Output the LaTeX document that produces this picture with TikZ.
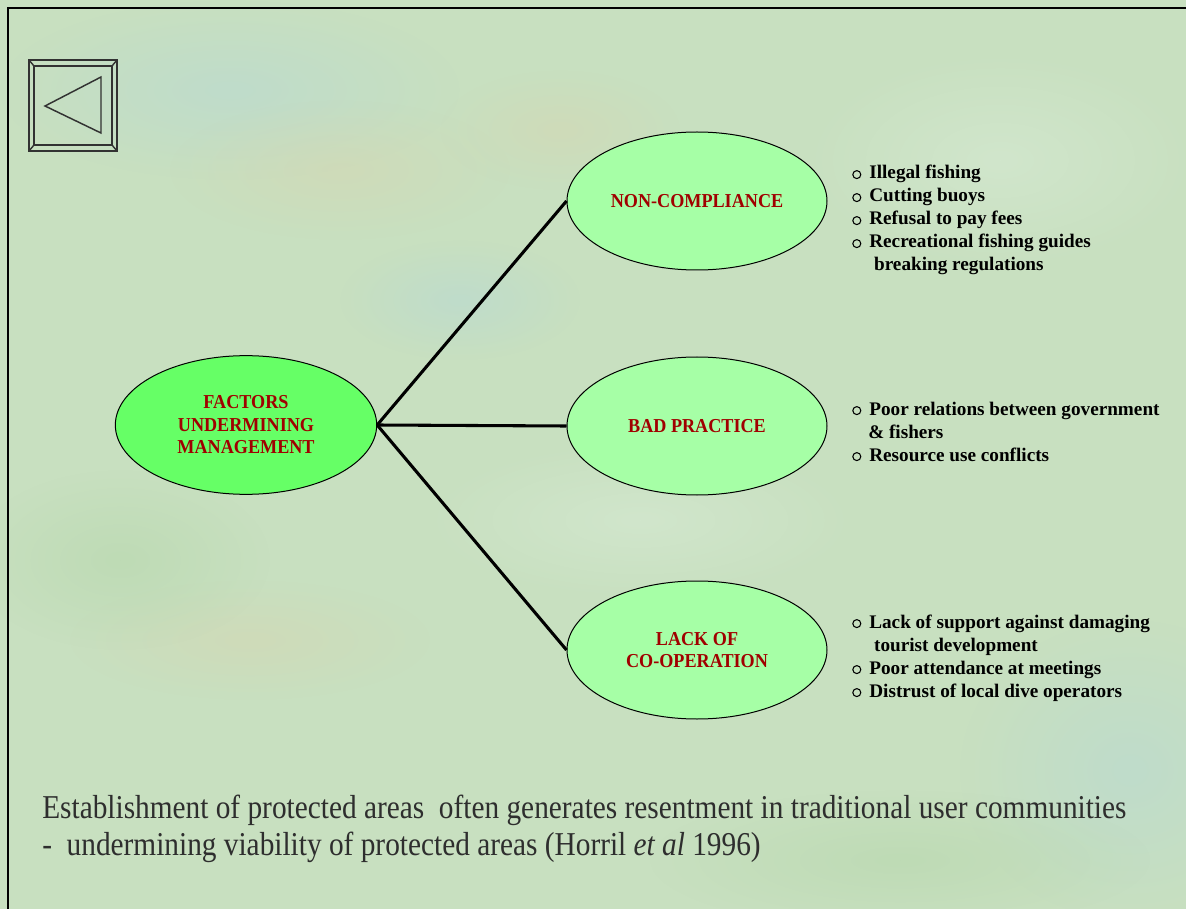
\documentclass[tikz,border=0pt]{standalone}
\usepackage{fontspec}
\setmainfont{Liberation Serif}
\newfontfamily\labelfont[FakeStretch=0.92]{Liberation Serif}
\newfontfamily\notefont[FakeStretch=0.88]{Liberation Serif}
\usetikzlibrary{shapes.geometric,fadings}

\definecolor{bgbase}{RGB}{200,224,192}
\definecolor{bgblue}{RGB}{182,216,214}
\definecolor{bgtan}{RGB}{214,214,178}
\definecolor{bglight}{RGB}{218,236,216}
\definecolor{bggreen}{RGB}{180,214,170}
\definecolor{hubgreen}{RGB}{102,255,102}
\definecolor{leafgreen}{RGB}{166,255,166}
\definecolor{labelred}{RGB}{160,0,0}
\definecolor{btngray}{RGB}{50,50,50}

\tikzfading[name=softblob, inner color=transparent!0, outer color=transparent!100]

% small open bullet used in the lists
\newcommand{\openbullet}{\tikz[baseline={(0,-3.3pt)}]\draw[line width=0.8pt,black](3pt,0)circle(3pt);\hspace{6pt}}
\newcommand{\bulletgap}{\hphantom{\openbullet}}

\tikzset{
  hub/.style={ellipse, draw=black, line width=0.75pt, fill=hubgreen,
    minimum width=196pt, minimum height=104pt, inner sep=0pt,
    align=center, text=labelred, font=\labelfont\bfseries\fontsize{14.8}{16.9}\selectfont},
  leaf/.style={hub, fill=leafgreen, minimum width=195pt, minimum height=103.5pt},
  link/.style={line width=2.3pt, black},
  itemlist/.style={anchor=base west, inner sep=0pt, align=left,
    font=\bfseries\fontsize{14.4}{17.25}\selectfont},
  note/.style={anchor=base west, inner sep=0pt, align=left, text=black!82,
    font=\notefont\fontsize{25}{27.75}\selectfont},
  blob/.style={path fading=softblob, fill opacity=0.5},
  btn/.style={draw=btngray, line width=1.1pt, line join=miter}
}

\begin{document}
\begin{tikzpicture}[x=0.75pt, y=-0.75pt]
  % page and mottled background
  \fill[bgbase] (0,0) rectangle (1186,909);
  \useasboundingbox (0,0) rectangle (1186,909);
  \fill[bgblue, blob] (230,90) ellipse (230 and 90);
  \fill[bgtan, blob] (340,170) ellipse (170 and 70);
  \fill[bgtan, blob] (560,130) ellipse (120 and 60);
  \fill[bgblue, blob] (460,300) ellipse (120 and 60);
  \fill[bglight, blob] (1000,160) ellipse (200 and 110);
  \fill[bgtan, blob] (250,640) ellipse (180 and 60);
  \fill[bgblue, blob] (1130,770) ellipse (170 and 150);
  \fill[bggreen, blob] (900,860) ellipse (250 and 70);
  \fill[bggreen, blob] (120,560) ellipse (150 and 90);
  \fill[bglight, blob] (640,520) ellipse (220 and 80);

  % frame lines along the top and left
  \draw[line width=1.6pt, black] (1186,8) -- (8,8) -- (8,909);

  % back button
  \draw[btn] (29,60) rectangle (117,151);
  \draw[btn] (34,66) rectangle (112,145);
  \draw[btn] (29,60) -- (34,66) (117,60) -- (112,66)
             (29,151) -- (34,145) (117,151) -- (112,145);
  \draw[btn] (45,106) -- (101,77) -- (101,133) -- cycle;

  % ellipses
  \node[hub] (hub) at (246,425) {FACTORS\\UNDERMINING\\MANAGEMENT};
  \node[leaf] (nc) at (697,201) {NON-COMPLIANCE};
  \node[leaf] (bp) at (697,426) {BAD PRACTICE};
  \node[leaf] (lc) at (697,650) {LACK OF\\CO-OPERATION};

  % connectors
  \draw[link] (hub.east) -- (nc.west);
  \draw[link] (hub.east) -- (bp.west);
  \draw[link] (hub.east) -- (lc.west);

  % item lists (placed by the baseline of their last line)
  \node[itemlist] (ncitems) at (852,271) {\openbullet Illegal fishing\\
    \openbullet Cutting buoys\\
    \openbullet Refusal to pay fees\\
    \openbullet Recreational fishing guides\\
    \bulletgap\ breaking regulations};
  \node[itemlist] (bpitems) at (852,461) {\openbullet Poor relations between government\\
    \hspace{12pt}\& fishers\\
    \openbullet Resource use conflicts};
  \node[itemlist] (lcitems) at (852,697) {\openbullet Lack of support against damaging\\
    \bulletgap\ tourist development\\
    \openbullet Poor attendance at meetings\\
    \openbullet Distrust of local dive operators};

  % closing remark
  \node[note] (remark) at (42,855) {Establishment of protected areas\ \ often generates resentment in traditional user communities\\
    -\ \ undermining viability of protected areas (Horril \textit{et al} 1996)};
\end{tikzpicture}
\end{document}
